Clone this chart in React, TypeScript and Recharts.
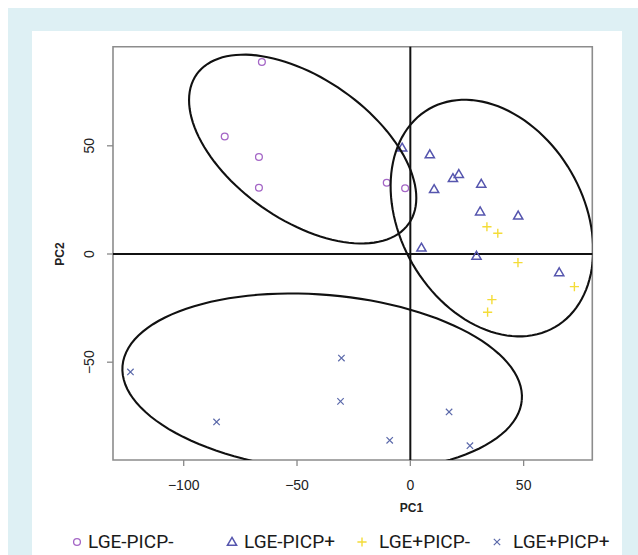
import { ScatterChart, Scatter, XAxis, YAxis, ReferenceLine, ReferenceArea } from 'recharts';

// PCA scores
const lgeNegPicpNeg = [
  { x: -65.5, y: 88.7 },
  { x: -81.9, y: 54.3 },
  { x: -66.8, y: 44.8 },
  { x: -66.8, y: 30.6 },
  { x: -10.4, y: 32.9 },
  { x: -2.3, y: 30.4 },
];

const lgeNegPicpPos = [
  { x: -3.6, y: 49.1 },
  { x: 8.6, y: 46.0 },
  { x: 10.5, y: 29.9 },
  { x: 18.8, y: 35.0 },
  { x: 21.4, y: 36.9 },
  { x: 31.3, y: 32.4 },
  { x: 30.8, y: 19.6 },
  { x: 47.6, y: 17.7 },
  { x: 4.9, y: 2.9 },
  { x: 29.2, y: -0.9 },
  { x: 65.7, y: -8.5 },
];

const lgePosPicpNeg = [
  { x: 33.8, y: 12.6 },
  { x: 38.6, y: 9.6 },
  { x: 47.5, y: -4.0 },
  { x: 72.4, y: -15.1 },
  { x: 36.0, y: -21.1 },
  { x: 34.1, y: -26.9 },
];

const lgePosPicpPos = [
  { x: -123.5, y: -54.5 },
  { x: -85.5, y: -77.6 },
  { x: -30.4, y: -48.1 },
  { x: -30.8, y: -68.1 },
  { x: -9.1, y: -86.1 },
  { x: 17.1, y: -73.0 },
  { x: 26.3, y: -88.6 },
];

// confidence ellipses: centre plus two conjugate semi-axis vectors (data units)
const ellipses = [
  { cx: -47.5, cy: 48.5, ux: 46.8, uy: -34.5, vx: -18.0, vy: -26.7 },
  { cx: 36.0, cy: 16.6, ux: 27.8, uy: -50.4, vx: -35.0, vy: -21.2 },
  { cx: -38.9, cy: -59.6, ux: 88.1, uy: -7.9, vx: -3.3, vy: -40.6 },
];

const xTicks = [-100, -50, 0, 50];
const yTicks = [-50, 0, 50];
const xDomain = [-131.2, 80.3];
const yDomain = [-95.2, 95.8];

const legendLabels = ['LGE-PICP-', 'LGE-PICP+', 'LGE+PICP-', 'LGE+PICP+'];

const COLORS = {
  circle: '#a466c6',
  triangle: '#5656ae',
  plus: '#f4dc38',
  cross: '#5b69aa',
};

const ellipseOutline = (e: typeof ellipses[number]) => {
  const pts = [];
  for (let i = 0; i <= 120; i++) {
    const t = (i / 120) * Math.PI * 2;
    pts.push({
      x: e.cx + e.ux * Math.cos(t) + e.vx * Math.sin(t),
      y: e.cy + e.uy * Math.cos(t) + e.vy * Math.sin(t),
    });
  }
  return pts;
};

const Circle = ({ cx, cy }: any) => (
  <circle cx={cx} cy={cy} r={3.4} fill="none" stroke={COLORS.circle} strokeWidth={1.3} />
);

const Triangle = ({ cx, cy }: any) => (
  <polygon
    points={`${cx},${cy - 4.6} ${cx + 4.6},${cy + 3.3} ${cx - 4.6},${cy + 3.3}`}
    fill="none"
    stroke={COLORS.triangle}
    strokeWidth={1.5}
  />
);

const Plus = ({ cx, cy }: any) => (
  <path
    d={`M${cx - 4.6},${cy}H${cx + 4.6}M${cx},${cy - 4.6}V${cy + 4.6}`}
    stroke={COLORS.plus}
    strokeWidth={1.4}
    fill="none"
  />
);

const Cross = ({ cx, cy }: any) => (
  <path
    d={`M${cx - 3.2},${cy - 3.2}L${cx + 3.2},${cy + 3.2}M${cx - 3.2},${cy + 3.2}L${cx + 3.2},${cy - 3.2}`}
    stroke={COLORS.cross}
    strokeWidth={1.2}
    fill="none"
  />
);

const markers = [Circle, Triangle, Plus, Cross];

const fmt = (v: number) => (v < 0 ? `\u2212${Math.abs(v)}` : `${v}`);

const XTick = ({ x, y, payload }: any) => (
  <text x={x} y={y + 19} textAnchor="middle" dominantBaseline="central"
    fontFamily="Liberation Sans, Arial, sans-serif" fontSize={14} fill="#222">
    {fmt(payload.value)}
  </text>
);

const YTick = ({ x, y, payload }: any) => (
  <text x={x - 18} y={y} textAnchor="middle" dominantBaseline="central"
    transform={`rotate(-90, ${x - 18}, ${y})`}
    fontFamily="Liberation Sans, Arial, sans-serif" fontSize={14} fill="#222">
    {fmt(payload.value)}
  </text>
);

const symbolX = [77, 232, 362, 497];
const textX = [88, 244, 379, 513];

export default function App() {
  return (
    <div style={{ position: 'absolute', left: 0, top: 0, width: 638, height: 555, background: '#fff' }}>
      <div style={{ position: 'absolute', left: 8, top: 8, right: 0, bottom: 0, background: '#def0f4' }} />
      <div style={{ position: 'absolute', left: 32, top: 31, width: 590, bottom: 0, background: '#fff' }} />
      <div style={{ position: 'absolute', left: 0, top: 0 }}>
        <ScatterChart width={638} height={555} margin={{ top: 46.7, right: 45.7, bottom: 65, left: 53 }}>
          <XAxis
            type="number"
            dataKey="x"
            domain={xDomain}
            ticks={xTicks}
            allowDataOverflow
            axisLine={false}
            tickLine={{ stroke: '#888', strokeWidth: 1.3 }}
            tickSize={6}
            tickMargin={0}
            tick={<XTick />}
            height={30}
          />
          <YAxis
            type="number"
            dataKey="y"
            domain={yDomain}
            ticks={yTicks}
            allowDataOverflow
            axisLine={false}
            tickLine={{ stroke: '#888', strokeWidth: 1.3 }}
            tickSize={6}
            tickMargin={0}
            tick={<YTick />}
            width={60}
          />
          <ReferenceArea
            x1={xDomain[0]}
            x2={xDomain[1]}
            y1={yDomain[0]}
            y2={yDomain[1]}
            fill="none"
            fillOpacity={0}
            stroke="#8c8c8c"
            strokeWidth={1.6}
            ifOverflow="visible"
          />
          <ReferenceLine x={0} stroke="#111" strokeWidth={2} />
          <ReferenceLine y={0} stroke="#111" strokeWidth={2} />
          <Scatter data={lgeNegPicpNeg} shape={<Circle />} isAnimationActive={false} />
          <Scatter data={lgeNegPicpPos} shape={<Triangle />} isAnimationActive={false} />
          <Scatter data={lgePosPicpNeg} shape={<Plus />} isAnimationActive={false} />
          <Scatter data={lgePosPicpPos} shape={<Cross />} isAnimationActive={false} />
          {ellipses.map((e, i) => (
            <Scatter
              key={i}
              data={ellipseOutline(e)}
              line={{ stroke: '#111', strokeWidth: 2.1, fill: 'none' }}
              lineType="joint"
              shape={() => <g />}
              isAnimationActive={false}
            />
          ))}
        </ScatterChart>
      </div>
      <svg width={638} height={555} style={{ position: 'absolute', left: 0, top: 0, pointerEvents: 'none' }}>
        <text x={411.5} y={508} textAnchor="middle" dominantBaseline="central"
          fontFamily="Liberation Sans, Arial, sans-serif" fontSize={12} fontWeight="bold" fill="#222">PC1</text>
        <text x={60} y={254} textAnchor="middle" dominantBaseline="central" transform="rotate(-90, 60, 254)"
          fontFamily="Liberation Sans, Arial, sans-serif" fontSize={12} fontWeight="bold" fill="#222">PC2</text>
        {legendLabels.map((label, i) => {
          const M = markers[i];
          return (
            <g key={label}>
              <M cx={symbolX[i]} cy={542} />
              <text x={textX[i]} y={541} dominantBaseline="central"
                fontFamily="Roboto, sans-serif" fontSize={19} fill="#1a1a1a">{label}</text>
            </g>
          );
        })}
      </svg>
    </div>
  );
}
